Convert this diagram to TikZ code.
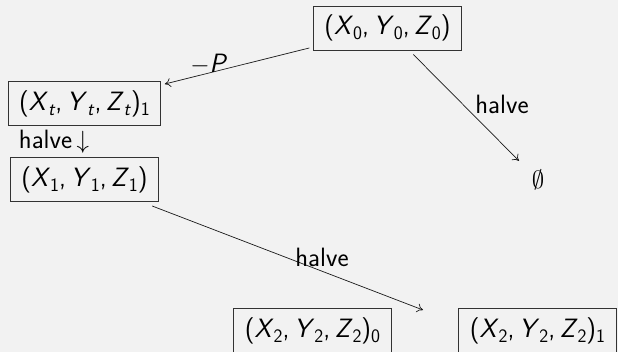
\documentclass[tikz,border=0pt]{standalone}
\usetikzlibrary{arrows.meta}
\definecolor{bgc}{HTML}{F2F2F2}
\newcommand\vv[1]{\textit{#1}}
\newcommand\sbs[1]{\raisebox{-5pt}{\fontsize{19}{19}\selectfont #1}}
\newcommand\cm{,\hspace{0.17em}}
\tikzset{
  box/.style={draw=black!80, line width=1pt, inner xsep=11pt, inner ysep=0pt,
    minimum height=44pt, outer sep=4pt, text height=19pt, text depth=6pt},
  plain/.style={inner sep=0pt, minimum height=44pt, minimum width=30pt, outer sep=4pt},
  lbl/.style={inner sep=0pt},
  conn/.style={-{To[length=6pt,width=9pt]}, line width=0.7pt, black!90},
  every node/.style={font=\sffamily\fontsize{26.5}{30}\selectfont}
}
\begin{document}
\begin{tikzpicture}[x=1pt,y=-1pt]
\fill[bgc] (0,0) rectangle (618,352);
\clip (0,0) rectangle (618,352);
\node[box] (x0) at (387.5,28.5) {(\vv{X}\sbs{0}\cm\vv{Y}\sbs{0}\cm\vv{Z}\sbs{0})};
\node[box] (xt) at (84.5,104) {(\vv{X}\sbs{\vv{t}}\cm\vv{Y}\sbs{\vv{t}}\cm\vv{Z}\sbs{\vv{t}})\sbs{1}};
\node[lbl] (hv) at (54,142) {halve\,$\downarrow$};
\node[box] (x1) at (84.5,180) {(\vv{X}\sbs{1}\cm\vv{Y}\sbs{1}\cm\vv{Z}\sbs{1})};
\node[plain] (em) at (538,180) {$\emptyset$};
\node[box] (x20) at (312.5,331) {(\vv{X}\sbs{2}\cm\vv{Y}\sbs{2}\cm\vv{Z}\sbs{2})\sbs{0}};
\node[box] (x21) at (537.5,331) {(\vv{X}\sbs{2}\cm\vv{Y}\sbs{2}\cm\vv{Z}\sbs{2})\sbs{1}};
\coordinate (e1) at (423,310);
\draw[conn] (x0) -- (xt);
\draw[conn] (x0) -- (em);
\draw[conn] (x1) -- (e1);
\node[lbl] (lp) at (209,64) {$-$\vv{P}};
\node[lbl] (lh1) at (502,104) {halve};
\node[lbl] (lh2) at (322,257) {halve};
\end{tikzpicture}
\end{document}
